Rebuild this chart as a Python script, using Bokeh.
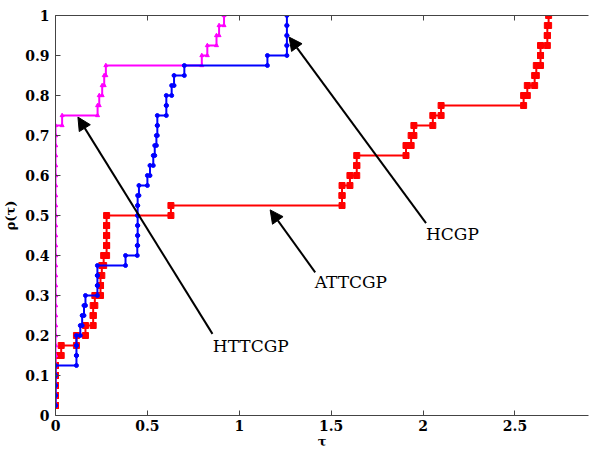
from bokeh.plotting import figure
from bokeh.models import LinearAxis, FixedTicker, Arrow, NormalHead, Label, Range1d
from bokeh.embed import file_html
from bokeh.resources import INLINE

# Performance profile data: sorted performance ratios (tau) per solver, 40 problems
n_problems = 40
tau_attcgp = [0, 0, 0, 0, 0, 0, 0.031, 0.114, 0.163, 0.205, 0.205, 0.214, 0.245, 0.245,
              0.252, 0.262, 0.278, 0.278, 0.278, 0.278, 0.628, 1.559, 1.559, 1.602, 1.639,
              1.639, 1.907, 1.935, 1.95, 2.053, 2.098, 2.547, 2.567, 2.607, 2.616, 2.639,
              2.639, 2.676, 2.676, 2.683]
tau_hcgp = [0, 0, 0, 0, 0, 0.114, 0.114, 0.114, 0.135, 0.145, 0.155, 0.163, 0.228, 0.228,
            0.228, 0.381, 0.445, 0.447, 0.447, 0.447, 0.447, 0.447, 0.454, 0.5, 0.514,
            0.532, 0.54, 0.549, 0.554, 0.554, 0.603, 0.603, 0.632, 0.645, 0.701, 1.153,
            1.259, 1.259, 1.259, 1.259]
tau_httcgp = [0] * 29 + [0.036, 0.229, 0.238, 0.254, 0.265, 0.274, 0.796, 0.826, 0.876,
                         0.89, 0.917]

x_ticks = [0, 0.5, 1, 1.5, 2, 2.5]
x_tick_labels = ["0", "0.5", "1", "1.5", "2", "2.5"]
y_ticks = [0, 0.1, 0.2, 0.3, 0.4, 0.5, 0.6, 0.7, 0.8, 0.9, 1]
y_tick_labels = ["0", "0.1", "0.2", "0.3", "0.4", "0.5", "0.6", "0.7", "0.8", "0.9", "1"]

# annotation: (label, text x, text y, arrow tail, arrow tip)
annotations = [
    ("HTTCGP", 0.856, 0.175, (0.854, 0.204), (0.122, 0.746)),
    ("ATTCGP", 1.41, 0.333, (1.413, 0.358), (1.168, 0.514)),
    ("HCGP", 2.016, 0.455, (2.016, 0.481), (1.271, 0.946)),
]

FONT = "DejaVu Serif"


def stair_vertices(taus, n):
    ys = [(i + 1) / n for i in range(len(taus))]
    vx, vy = [taus[0]], [ys[0]]
    for i in range(1, len(taus)):
        vx += [taus[i], taus[i]]
        vy += [ys[i - 1], ys[i]]
    return vx, vy


p = figure(width=589, height=452, x_range=Range1d(0, 2.9), y_range=Range1d(0, 1),
           output_backend="svg", toolbar_location=None,
           min_border_left=55, min_border_right=1, min_border_top=15, min_border_bottom=37)
p.grid.visible = False
p.outline_line_color = None
p.background_fill_color = "white"

series = [
    (tau_attcgp, "#ff0000", "square", 6),
    (tau_httcgp, "#ff00ff", "triangle", 4),
    (tau_hcgp, "#0000ff", "circle", 4),
]
for taus, color, marker, msize in series:
    vx, vy = stair_vertices(taus, n_problems)
    p.line(vx, vy, line_color=color, line_width=2)
    p.scatter(vx, vy, marker=marker, size=msize, line_color=color, fill_color=color)

axis_color = "#444444"
for ax in (p.xaxis[0], p.yaxis[0]):
    ax.major_tick_in = 5
    ax.major_tick_out = 0
    ax.minor_tick_line_color = None
    ax.axis_line_color = axis_color
    ax.major_tick_line_color = axis_color
    ax.major_label_text_font = FONT
    ax.major_label_text_font_style = "bold"
    ax.major_label_text_font_size = "14px"
    ax.major_label_text_color = "black"
    ax.axis_label_text_font = FONT
    ax.axis_label_text_font_style = "bold"
    ax.axis_label_text_font_size = "13px"
    ax.axis_label_text_color = "black"

p.xaxis[0].ticker = FixedTicker(ticks=x_ticks)
p.xaxis[0].major_label_overrides = dict(zip(x_ticks, x_tick_labels))
p.xaxis[0].axis_label = "τ"
p.xaxis[0].major_label_standoff = 4
p.xaxis[0].axis_label_standoff = 0

p.yaxis[0].ticker = FixedTicker(ticks=y_ticks)
p.yaxis[0].major_label_overrides = dict(zip(y_ticks, y_tick_labels))
p.yaxis[0].axis_label = "ρ(τ)"
p.yaxis[0].major_label_standoff = 6
p.yaxis[0].axis_label_standoff = 4

top = LinearAxis(ticker=FixedTicker(ticks=x_ticks),
                 major_label_overrides={t: "" for t in x_ticks},
                 major_label_text_font_size="1px",
                 major_tick_in=5, major_tick_out=0, minor_tick_line_color=None,
                 major_label_standoff=0, axis_line_color=axis_color,
                 major_tick_line_color=axis_color)
p.add_layout(top, "above")

for text, tx, ty, tail, tip in annotations:
    p.add_layout(Arrow(end=NormalHead(size=13, fill_color="black", line_color="black"),
                       x_start=tail[0], y_start=tail[1], x_end=tip[0], y_end=tip[1],
                       line_color="black", line_width=2))
    p.add_layout(Label(x=tx, y=ty, text=text, text_font=FONT, text_font_size="17px",
                       text_baseline="middle", text_align="left", text_color="black"))

open("out.html", "w").write(file_html(p, INLINE))
